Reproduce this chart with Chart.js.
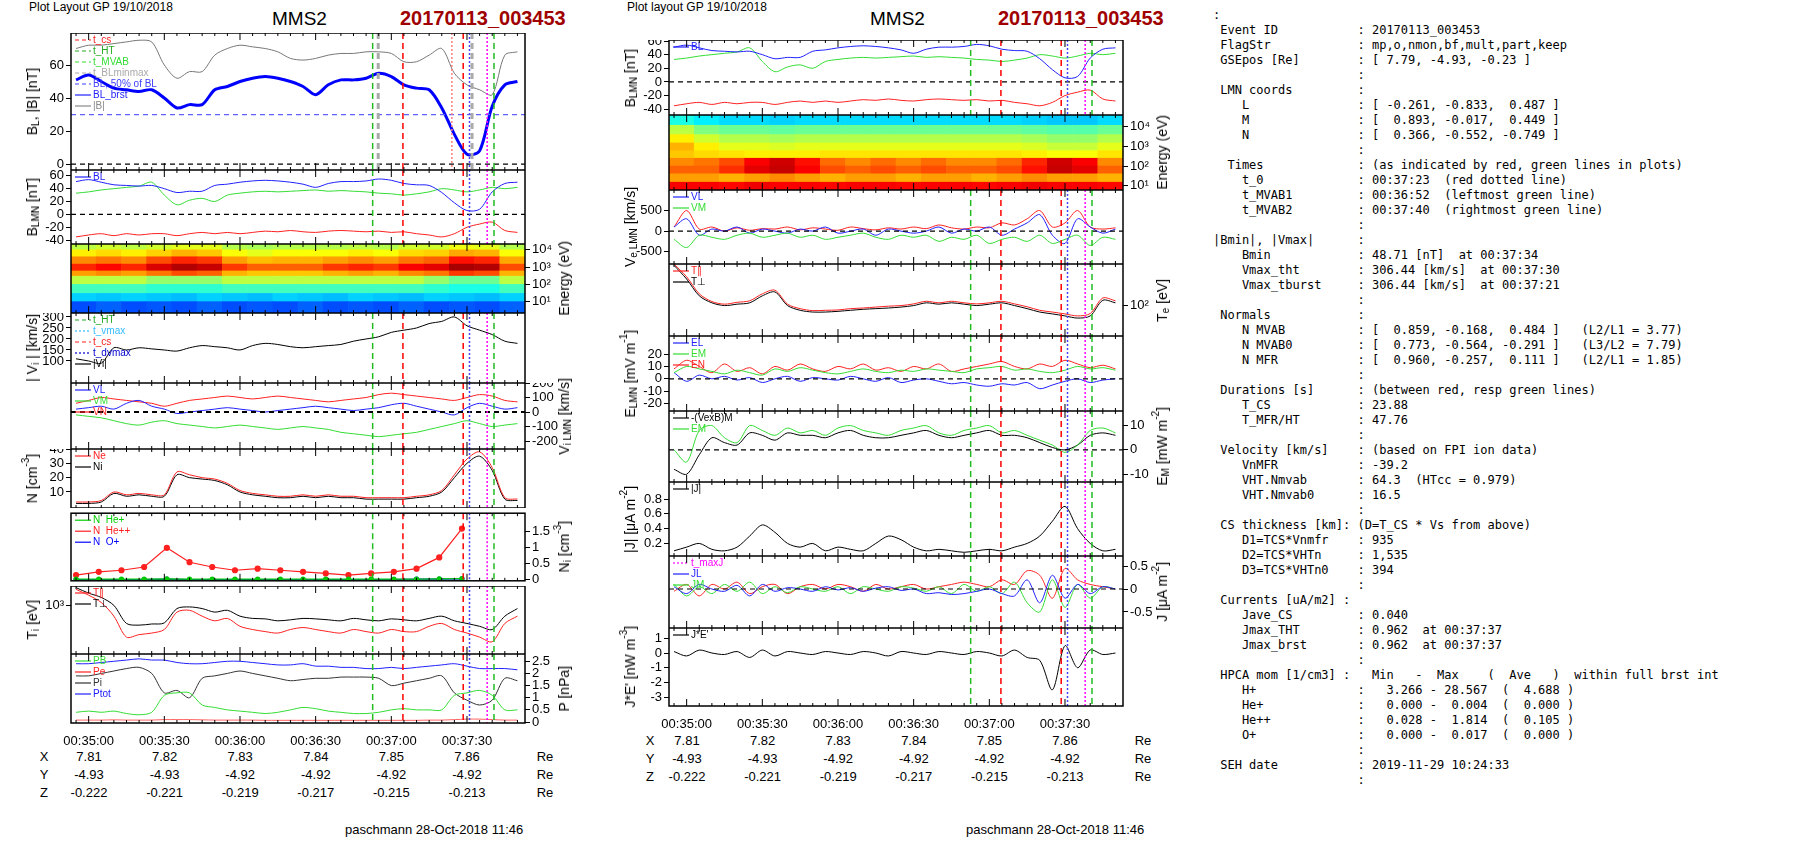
<!DOCTYPE html>
<html>
<head>
<meta charset="utf-8">
<script src="https://cdn.jsdelivr.net/npm/chart.js@4"></script>
<style>
  body { margin: 0; background: #fff; width: 1804px; height: 841px; position: relative; overflow: hidden; font-family: "Liberation Sans", Arial, sans-serif; }
  canvas { position: absolute; }
  .t { position: absolute; white-space: nowrap; color: #000; }
  .c { position: absolute; white-space: nowrap; transform: translateX(-50%); font-size: 13px; }
  .yt { position: absolute; white-space: nowrap; font-size: 14px; writing-mode: vertical-rl; transform: rotate(180deg); line-height: 16px; }
  .yt sub, .yt sup { font-size: 10px; line-height: 0; }
  pre { position: absolute; left: 1213px; top: 8px; margin: 0; font-family: "DejaVu Sans Mono", monospace; font-size: 12px; line-height: 15px; }
</style>
</head>
<body>
<div class="t" style="left:29px;top:0px;font-size:12px">Plot Layout GP 19/10/2018</div>
<div class="t" style="left:272px;top:8px;font-size:19px">MMS2</div>
<div class="t" style="left:400px;top:7px;font-size:20px;font-weight:bold;color:#a00000">20170113_003453</div>
<div class="t" style="left:627px;top:0px;font-size:12px">Plot layout GP 19/10/2018</div>
<div class="t" style="left:870px;top:8px;font-size:19px">MMS2</div>
<div class="t" style="left:998px;top:7px;font-size:20px;font-weight:bold;color:#a00000">20170113_003453</div>
<div class="t" style="left:345px;top:822px;font-size:13px">paschmann 28-Oct-2018 11:46</div>
<div class="t" style="left:966px;top:822px;font-size:13px">paschmann 28-Oct-2018 11:46</div>
<div id="tables"></div>
<pre>:
 Event ID           : 20170113_003453
 FlagStr            : mp,o,nmon,bf,mult,part,keep
 GSEpos [Re]        : [ 7.79, -4.93, -0.23 ]
                    :
 LMN coords         :
    L               : [ -0.261, -0.833,  0.487 ]
    M               : [  0.893, -0.017,  0.449 ]
    N               : [  0.366, -0.552, -0.749 ]
                    :
  Times             : (as indicated by red, green lines in plots)
    t_0             : 00:37:23  (red dotted line)
    t_MVAB1         : 00:36:52  (leftmost green line)
    t_MVAB2         : 00:37:40  (rightmost green line)
                    :
|Bmin|, |Vmax|      :
    Bmin            : 48.71 [nT]  at 00:37:34
    Vmax_tht        : 306.44 [km/s]  at 00:37:30
    Vmax_tburst     : 306.44 [km/s]  at 00:37:21
                    :
 Normals            :
    N MVAB          : [  0.859, -0.168,  0.484 ]   (L2/L1 = 3.77)
    N MVAB0         : [  0.773, -0.564, -0.291 ]   (L3/L2 = 7.79)
    N MFR           : [  0.960, -0.257,  0.111 ]   (L2/L1 = 1.85)
                    :
 Durations [s]      : (between red, resp green lines)
    T_CS            : 23.88
    T_MFR/HT        : 47.76
                    :
 Velocity [km/s]    : (based on FPI ion data)
    VnMFR           : -39.2
    VHT.Nmvab       : 64.3  (HTcc = 0.979)
    VHT.Nmvab0      : 16.5
                    :
 CS thickness [km]: (D=T_CS * Vs from above)
    D1=TCS*Vnmfr    : 935
    D2=TCS*VHTn     : 1,535
    D3=TCS*VHTn0    : 394
                    :
 Currents [uA/m2] :
    Jave_CS         : 0.040
    Jmax_THT        : 0.962  at 00:37:37
    Jmax_brst       : 0.962  at 00:37:37
                    :
 HPCA mom [1/cm3] :   Min   -  Max    (  Ave   )  within full brst int
    H+              :   3.266 - 28.567  (  4.688 )
    He+             :   0.000 -  0.004  (  0.000 )
    He++            :   0.028 -  1.814  (  0.105 )
    O+              :   0.000 -  0.017  (  0.000 )
                    :
 SEH date           : 2019-11-29 10:24:33
                    :</pre>
<script>
// seconds after 00:35:00
const tSec = [-5,0,5,10,15,20,25,30,35,40,45,50,55,60,65,70,75,80,85,90,95,100,105,110,115,120,125,130,135,140,145,150,155,160,165,170];

const BL   = [51,54,50,46,45,44,45,40,34,36,36,45,47,50,52,53,52,50,47,42,48,51,51,52,55,53,48,46,45,34,18,6,8,35,48,50];
const Bmag = [70,72,72,73,74,75,74,60,52,56,56,66,70,72,71,70,68,64,63,64,66,67,67,68,68,67,62,62,66,70,55,48,45,42,66,68];
const BM   = [33,35,38,40,42,44,50,30,15,22,25,20,30,33,35,36,35,36,37,38,36,37,36,35,33,32,30,32,35,40,38,35,38,42,40,42];
const BN   = [-35,-32,-30,-33,-30,-32,-30,-30,-33,-30,-28,-30,-28,-30,-28,-26,-27,-25,-27,-28,-26,-25,-26,-27,-26,-28,-27,-30,-32,-35,-30,-20,-15,-12,-25,-28];

const Vi   = [110,100,90,160,150,160,155,150,145,160,170,165,160,150,170,180,175,165,160,165,170,175,190,200,210,230,240,250,270,280,300,260,240,220,190,180];
const ViL  = [20,30,40,20,60,80,40,20,-10,0,10,20,30,20,10,0,10,20,30,40,30,20,10,20,30,50,60,40,20,0,-20,30,60,40,20,30];
const ViM  = [-20,-30,-40,-60,-80,-90,-70,-60,-80,-90,-100,-110,-100,-90,-100,-110,-120,-110,-100,-110,-120,-140,-150,-160,-170,-160,-150,-140,-120,-100,-80,-60,-80,-100,-90,-80];
const ViN  = [60,80,100,90,80,70,60,40,60,80,90,100,110,100,90,100,110,100,90,80,70,80,90,100,120,130,120,110,100,90,80,100,120,110,80,70];

const Ni   = [2,2,3,9,7,8,7,7,22,20,19,18,15,10,8,7,6,6,7,6,7,6,6,5,5,5,5,6,7,10,20,30,35,25,5,4];
const Ne   = [3,3,4,10,8,9,8,8,24,22,20,19,16,11,9,8,7,7,8,7,8,7,7,6,6,6,6,7,8,11,22,33,38,27,6,5];

const tHpca = [-5,4,13,22,31,40,49,58,67,76,85,94,103,112,121,130,139,148];
const NHepp = [0.15,0.25,0.3,0.4,1.0,0.55,0.4,0.3,0.35,0.3,0.25,0.2,0.15,0.2,0.25,0.35,0.7,1.6];
const NHep  = [0.02,0.02,0.02,0.02,0.03,0.02,0.02,0.02,0.02,0.02,0.02,0.02,0.02,0.02,0.02,0.02,0.03,0.04];
const NOp   = [0.01,0.01,0.01,0.01,0.02,0.01,0.01,0.01,0.01,0.01,0.01,0.01,0.01,0.01,0.01,0.02,0.02,0.03];

const Tperp = [1800,1500,1300,1000,550,520,540,560,900,950,900,800,850,700,650,640,600,620,650,640,620,600,650,620,600,640,620,600,650,700,600,550,500,450,700,900];
const Tpar  = [1700,1400,1100,700,350,380,400,450,800,850,700,600,650,500,450,420,400,450,480,450,420,400,450,420,400,450,420,420,500,550,450,400,350,300,550,700];

const Ptot = [2.4,2.4,2.45,2.5,2.55,2.6,2.55,2.55,2.45,2.4,2.4,2.45,2.5,2.5,2.45,2.4,2.35,2.35,2.4,2.3,2.3,2.25,2.25,2.2,2.2,2.25,2.2,2.25,2.3,2.35,2.4,2.3,2.2,2.2,2.2,2.15];
const Pi   = [1.9,1.9,2.0,2.1,2.2,2.25,2.0,1.2,1.3,1.0,1.8,1.9,2.0,2.1,2.0,1.9,1.8,1.7,1.75,1.8,1.8,1.85,1.85,1.85,1.8,1.5,1.6,1.7,1.8,1.9,1.2,0.9,0.7,0.9,1.8,1.7];
const Pb   = [0.4,0.45,0.4,0.45,0.35,0.3,0.4,1.1,1.2,1.2,0.7,0.6,0.5,0.45,0.4,0.35,0.4,0.5,0.6,0.55,0.45,0.4,0.35,0.35,0.4,0.5,0.55,0.5,0.5,0.5,1.1,1.2,1.3,1.1,0.5,0.5];
const Pe   = [0.08,0.08,0.08,0.09,0.08,0.08,0.08,0.1,0.1,0.1,0.09,0.08,0.08,0.08,0.08,0.07,0.07,0.07,0.07,0.07,0.07,0.07,0.07,0.07,0.07,0.07,0.07,0.07,0.08,0.08,0.1,0.12,0.12,0.1,0.08,0.08];

const VeL = [100,300,-100,50,0,100,-50,50,0,-50,50,0,100,-50,0,50,-100,50,0,-50,0,100,-50,50,0,100,-100,50,200,400,-100,-300,300,100,-50,50];
const VeM = [-200,-400,-100,-150,-200,-100,-50,-150,-100,-50,-150,-100,-200,-150,-100,-50,-150,-200,-100,-150,-100,-250,-150,-200,-100,-300,-200,-150,-250,-100,-300,-200,-100,-350,-150,-200];
const VeN = [100,500,50,100,0,80,20,60,50,100,30,80,50,20,100,60,30,80,50,100,60,150,80,50,100,80,200,150,300,500,100,200,500,100,50,80];

const Te    = [400,250,140,110,100,105,110,140,160,100,85,80,80,82,85,88,90,92,95,100,110,105,110,105,100,105,110,100,90,80,75,70,65,70,120,110];
const TePar = [420,270,150,115,105,112,118,150,170,105,90,84,85,86,90,92,95,98,100,106,116,110,116,110,106,110,116,106,96,85,80,75,70,76,130,118];

const EL = [5,-2,3,0,2,-1,1,-3,0,2,-2,1,0,-1,2,0,-2,1,-3,-1,0,-2,-4,-3,-5,-6,-4,-5,-3,-8,-5,-2,0,-3,-1,0];
const EMc = [5,10,8,6,4,7,5,3,8,6,9,7,5,4,6,8,6,5,7,6,8,7,6,5,8,9,10,7,8,6,5,7,10,8,9,7];
const EN = [8,15,10,5,12,6,9,4,10,7,12,8,6,10,8,12,7,9,6,10,8,12,6,8,10,12,14,10,8,12,10,15,12,9,11,8];

const EMg = [0,-5,8,10,5,3,10,8,6,9,7,8,6,9,10,8,7,6,8,9,10,7,6,8,9,10,7,8,6,4,2,-1,2,8,9,7];
const EMk = [-8,-10,-2,5,3,2,7,6,4,7,6,6,5,7,8,6,5,5,6,7,8,6,5,6,7,8,6,6,5,3,1,0,2,6,7,6];

const Jmag = [0.1,0.15,0.2,0.12,0.1,0.15,0.3,0.45,0.35,0.2,0.15,0.2,0.1,0.15,0.12,0.1,0.2,0.3,0.25,0.15,0.1,0.12,0.1,0.08,0.1,0.12,0.1,0.15,0.2,0.3,0.5,0.7,0.4,0.2,0.1,0.12];
const JL = [0.05,-0.1,0.1,0.0,-0.05,0.08,-0.15,0.1,-0.05,0.03,0.0,-0.05,0.05,-0.02,0.03,-0.05,0.02,0.05,-0.03,0.0,-0.1,-0.08,-0.12,-0.1,-0.05,0.0,-0.1,-0.15,0.2,-0.3,0.3,-0.2,0.1,-0.1,0.05,0.0];
const JM = [0.1,-0.15,0.05,-0.1,0.1,-0.05,0.15,-0.1,0.05,-0.08,0.05,0.0,-0.05,0.05,-0.1,0.05,0.0,-0.05,0.05,0.02,-0.05,0.05,-0.1,0.1,-0.05,0.05,-0.1,0.15,-0.3,-0.5,0.2,-0.4,0.1,-0.2,0.05,0.0];
const JN = [-0.05,0.1,-0.15,0.1,0.0,0.15,-0.1,0.05,0.1,-0.1,0.05,0.1,0.0,0.1,0.05,-0.05,0.1,0.0,0.05,0.1,0.0,0.05,0.1,0.15,0.1,0.05,0.2,0.1,0.4,0.3,-0.2,0.45,0.2,0.1,0.05,0.0];
const JE = [0.1,-0.2,0.2,0,-0.1,0.1,-0.3,0.2,-0.2,0.1,0,-0.1,0.1,0,-0.1,0.1,0,-0.2,0.1,0,-0.1,0.1,0,-0.1,0.1,0,-0.2,0.2,-0.3,-0.5,-2.5,0.5,-1,0.2,-0.1,0];

// spectrograms: 10 s bins, energy band edges, normalised colour level per band (low -> high energy)
const tSpec = [-2,8,18,28,38,48,58,68,78,88,98,108,118,128,138,148,158,168];
const ionEdges = [2.2,10,30,100,300,600,1500,4000,10000,22000];
const ionLevels = [
  [0.2,0.22,0.2,0.21,0.2,0.22,0.2,0.21,0.2,0.22,0.2,0.21,0.2,0.22,0.2,0.21,0.2,0.22],
  [0.33,0.32,0.33,0.32,0.31,0.33,0.32,0.31,0.33,0.32,0.31,0.33,0.32,0.31,0.33,0.32,0.31,0.33],
  [0.44,0.44,0.44,0.42,0.42,0.42,0.44,0.44,0.44,0.44,0.44,0.44,0.44,0.44,0.42,0.4,0.4,0.44],
  [0.56,0.56,0.56,0.52,0.52,0.52,0.56,0.56,0.56,0.56,0.56,0.56,0.56,0.56,0.52,0.48,0.48,0.56],
  [0.72,0.74,0.72,0.76,0.8,0.78,0.7,0.68,0.68,0.68,0.7,0.72,0.7,0.74,0.76,0.82,0.8,0.7],
  [0.84,0.87,0.84,0.91,0.95,0.93,0.82,0.78,0.78,0.78,0.82,0.84,0.82,0.88,0.9,0.96,0.95,0.8],
  [0.74,0.76,0.74,0.8,0.84,0.82,0.72,0.69,0.7,0.7,0.72,0.74,0.72,0.76,0.78,0.86,0.84,0.71],
  [0.64,0.66,0.64,0.67,0.7,0.68,0.62,0.6,0.62,0.62,0.62,0.64,0.62,0.66,0.67,0.71,0.7,0.62],
  [0.56,0.58,0.56,0.58,0.6,0.6,0.55,0.54,0.55,0.55,0.55,0.56,0.55,0.58,0.58,0.61,0.6,0.55]
];
const eleEdges = [6,15,40,100,250,600,1500,4000,12000,40000];
const eleLevels = [
  [0.88,0.88,0.87,0.89,0.88,0.88,0.87,0.88,0.88,0.87,0.88,0.88,0.87,0.88,0.89,0.88,0.88,0.87],
  [0.72,0.72,0.7,0.72,0.74,0.72,0.7,0.72,0.72,0.7,0.72,0.72,0.7,0.72,0.74,0.72,0.72,0.7],
  [0.78,0.78,0.83,0.9,0.93,0.88,0.8,0.78,0.8,0.78,0.8,0.78,0.78,0.8,0.86,0.93,0.9,0.78],
  [0.74,0.76,0.8,0.88,0.92,0.86,0.77,0.74,0.77,0.74,0.77,0.74,0.74,0.77,0.84,0.92,0.88,0.74],
  [0.68,0.66,0.65,0.64,0.64,0.64,0.65,0.65,0.65,0.65,0.65,0.65,0.65,0.65,0.64,0.62,0.62,0.65],
  [0.7,0.64,0.6,0.6,0.59,0.6,0.6,0.6,0.6,0.6,0.6,0.6,0.6,0.6,0.59,0.57,0.57,0.6],
  [0.64,0.58,0.55,0.55,0.54,0.55,0.55,0.55,0.55,0.55,0.55,0.55,0.55,0.55,0.54,0.52,0.52,0.55],
  [0.56,0.5,0.48,0.48,0.47,0.48,0.48,0.48,0.48,0.48,0.48,0.48,0.48,0.48,0.47,0.46,0.46,0.48],
  [0.4,0.36,0.34,0.34,0.33,0.34,0.34,0.34,0.34,0.34,0.34,0.34,0.34,0.34,0.33,0.32,0.32,0.34]
];

// event markers (s after 00:35:00)
const markers = [
  { t: 112.6, color: '#22bb22', dash: [6, 4], w: 1.5 },
  { t: 114.8, color: '#aaaaaa', dash: [6, 4], w: 3, only: 'B' },
  { t: 124.6, color: '#ff0000', dash: [6, 4], w: 1.5 },
  { t: 144, color: '#ff8080', dash: [2, 2], w: 1.5, only: 'B' },
  { t: 148.5, color: '#ff0000', dash: [6, 4], w: 1.5 },
  { t: 151, color: '#4444ff', dash: [2, 2], w: 1.5 },
  { t: 152, color: '#aaaaaa', dash: [6, 4], w: 3, only: 'B' },
  { t: 158, color: '#ff00ff', dash: [2, 2], w: 1.5 },
  { t: 160.7, color: '#22bb22', dash: [6, 4], w: 1.5 }
];

const timeTicks = [0, 30, 60, 90, 120, 150];
const timeLabels = ['00:35:00', '00:35:30', '00:36:00', '00:36:30', '00:37:00', '00:37:30'];
const posX = ['7.81', '7.82', '7.83', '7.84', '7.85', '7.86'];
const posY = ['-4.93', '-4.93', '-4.92', '-4.92', '-4.92', '-4.92'];
const posZ = ['-0.222', '-0.221', '-0.219', '-0.217', '-0.215', '-0.213'];

const GREEN = '#33dd33', RED = '#ff2020', BLUE = '#2020ff';
const sup = { '0': '⁰', '1': '¹', '2': '²', '3': '³', '4': '⁴' };

function jet(v) {
  const r = Math.max(0, Math.min(1, 1.5 - Math.abs(4 * v - 3)));
  const g = Math.max(0, Math.min(1, 1.5 - Math.abs(4 * v - 2)));
  const b = Math.max(0, Math.min(1, 1.5 - Math.abs(4 * v - 1)));
  return `rgb(${Math.round(r * 255)},${Math.round(g * 255)},${Math.round(b * 255)})`;
}

const line = (data, color, w = 1, t = tSec) => ({
  data: data.map((v, i) => ({ x: t[i], y: v })), borderColor: color, backgroundColor: color,
  borderWidth: w, pointRadius: 0, tension: 0.3
});

function specSets(edges, levels) {
  return levels.map((row, b) => ({
    type: 'bar', grouped: false, barPercentage: 1, categoryPercentage: 1,
    data: tSpec.map(t => ({ x: t, y: [edges[b], edges[b + 1]] })),
    backgroundColor: row.map(jet), borderWidth: 0
  }));
}

const framePlugin = {
  id: 'frame',
  afterDatasetsDraw(chart, args, o) {
    const { ctx, chartArea: a, scales } = chart;
    ctx.save();
    (o.hlines || []).forEach(h => {
      const y = scales.y.getPixelForValue(h.y);
      ctx.strokeStyle = h.color; ctx.lineWidth = h.w || 1.2; ctx.setLineDash(h.dash || [5, 4]);
      ctx.beginPath(); ctx.moveTo(a.left, y); ctx.lineTo(a.right, y); ctx.stroke();
    });
    if (!o.spec) markers.forEach(m => {
      if (m.only && m.only !== o.kind) return;
      const x = scales.x.getPixelForValue(m.t);
      ctx.strokeStyle = m.color; ctx.lineWidth = m.w; ctx.setLineDash(m.dash);
      ctx.beginPath(); ctx.moveTo(x, a.top); ctx.lineTo(x, a.bottom); ctx.stroke();
    });
    ctx.setLineDash([]);
    ctx.font = '10px "Liberation Sans", Arial';
    (o.legend || []).forEach((l, i) => {
      const y = a.top + 7 + i * 11;
      ctx.strokeStyle = l.color; ctx.lineWidth = 1.2; ctx.setLineDash(l.dash || []);
      ctx.beginPath(); ctx.moveTo(a.left + 4, y); ctx.lineTo(a.left + 20, y); ctx.stroke();
      ctx.setLineDash([]);
      ctx.fillStyle = l.color; ctx.textBaseline = 'middle'; ctx.textAlign = 'left';
      ctx.fillText(l.text, a.left + 22, y);
    });
    // ticks along the frame
    ctx.strokeStyle = '#000'; ctx.lineWidth = 1;
    for (let t = -5; t <= 170; t += 5) {
      const x = scales.x.getPixelForValue(t);
      const len = t % 30 === 0 ? 7 : 3;
      ctx.beginPath(); ctx.moveTo(x, a.bottom); ctx.lineTo(x, a.bottom - len);
      ctx.moveTo(x, a.top); ctx.lineTo(x, a.top + len); ctx.stroke();
    }
    ctx.lineWidth = 1.5;
    ctx.strokeRect(a.left, a.top, a.right - a.left, a.bottom - a.top);
    ctx.restore();
  }
};

function panel(o) {
  const bottom = !!o.bottom;
  const cv = document.createElement('canvas');
  const h = o.h + (bottom ? 24 : 0);
  cv.width = 598; cv.height = h;
  cv.style.left = o.left + 'px'; cv.style.top = o.top + 'px';
  cv.style.width = '598px'; cv.style.height = h + 'px';
  document.body.appendChild(cv);
  // axis title as vertical text beside the panel, centred on (cx, cy)
  const t = document.createElement('div');
  t.className = 'yt'; t.innerHTML = o.title;
  document.body.appendChild(t);
  const cx = o.left + (o.right ? 564 : 32), cy = o.top + o.h / 2;
  t.style.left = (cx - t.offsetWidth / 2) + 'px';
  t.style.top = (cy - t.offsetHeight / 2) + 'px';
  new Chart(cv, {
    type: 'line',
    data: { datasets: o.sets },
    plugins: [framePlugin],
    options: {
      responsive: false, animation: false, devicePixelRatio: 1,
      layout: { padding: { left: o.right ? 71 : 0, right: o.right ? 0 : 73, top: 0, bottom: 0 } },
      plugins: { legend: { display: false }, tooltip: { enabled: false },
        frame: { hlines: o.hlines, legend: o.legend, spec: o.spec, kind: o.kind } },
      scales: {
        x: {
          type: 'linear', min: -7, max: 173, offset: false,
          border: { display: false },
          grid: { display: false },
          ticks: { display: bottom, color: '#000', font: { size: 13 }, maxRotation: 0, autoSkip: false,
            callback: v => timeLabels[timeTicks.indexOf(v)] },
          afterBuildTicks: s => { s.ticks = timeTicks.map(v => ({ value: v })); },
          afterFit: s => { s.height = bottom ? 24 : 0; s.paddingLeft = 0; s.paddingRight = 0; }
        },
        y: {
          type: o.log ? 'logarithmic' : 'linear', position: o.right ? 'right' : 'left',
          min: o.min, max: o.max,
          border: { display: false },
          grid: { drawOnChartArea: false, drawTicks: true, tickLength: 5, color: '#000' },
          ticks: { color: '#000', font: { size: 13 }, padding: 2, autoSkip: false,
            callback: v => o.log ? '10' + String(Math.round(Math.log10(v))).split('').map(c => sup[c]).join('') : v },
          afterBuildTicks: s => { s.ticks = o.ticks.map(v => ({ value: v })); },
          title: { display: false },
          afterFit: s => { s.width = o.right ? 73 : 71; s.paddingTop = 0; s.paddingBottom = 0; }
        }
      }
    }
  });
}

const L = 0, R = 598;
// left column
panel({ left: L, top: 33, h: 137, min: -3.6, max: 79.4, ticks: [0, 20, 40, 60], title: 'B<sub>L</sub>, |B| [nT]', kind: 'B',
  sets: [line(Bmag, '#777777'), line(BL, '#0000ff', 3)],
  hlines: [{ y: 0, color: '#000' }, { y: 30, color: '#6060ff' }],
  legend: [{ text: 't_cs', color: RED, dash: [4, 3] }, { text: 't_HT', color: '#22aa22', dash: [4, 3] },
    { text: 't_MVAB', color: GREEN, dash: [4, 3] }, { text: 't_BLminmax', color: '#aaaaaa', dash: [4, 3] },
    { text: 'BL, 50% of BL', color: '#4040ff', dash: [4, 3] }, { text: 'BL_brst', color: BLUE }, { text: '|B|', color: '#888' }] });
panel({ left: L, top: 170, h: 74, min: -46, max: 69, ticks: [-40, -20, 0, 20, 40, 60], title: 'B<sub>LMN</sub> [nT]',
  sets: [line(BL, BLUE), line(BM, GREEN), line(BN, RED)], hlines: [{ y: 0, color: '#000' }],
  legend: [{ text: 'BL', color: BLUE }] });
panel({ left: L, top: 244, h: 69, log: true, min: 2.2, max: 22000, ticks: [10, 100, 1000, 10000], right: true,
  title: 'Energy (eV)', spec: true, sets: specSets(ionEdges, ionLevels) });
panel({ left: L, top: 313, h: 70, min: 0, max: 318, ticks: [100, 150, 200, 250, 300], title: '| V<sub>i</sub> | [km/s]',
  sets: [line(Vi, '#000')],
  legend: [{ text: 't_HT', color: '#22aa22', dash: [4, 3] }, { text: 't_vmax', color: '#33bbff', dash: [2, 2] },
    { text: 't_cs', color: RED, dash: [4, 3] }, { text: 't_dvmax', color: '#0000cc', dash: [2, 2] }, { text: '|Vi|', color: '#000' }] });
panel({ left: L, top: 383, h: 66, min: -255, max: 200, ticks: [-200, -100, 0, 100, 200], right: true, title: 'V<sub>i LMN</sub> [km/s]',
  sets: [line(ViL, BLUE), line(ViM, GREEN), line(ViN, RED)], hlines: [{ y: 0, color: '#000', w: 2 }],
  legend: [{ text: 'VL', color: BLUE }, { text: 'VM', color: GREEN }, { text: 'VN', color: RED }] });
panel({ left: L, top: 449, h: 59, min: -1.2, max: 40, ticks: [10, 20, 30, 40], title: 'N [cm<sup>-3</sup>]',
  sets: [line(Ne, RED), line(Ni, '#000')], legend: [{ text: 'Ne', color: RED }, { text: 'Ni', color: '#000' }] });
panel({ left: L, top: 508, h: 78, min: -0.03, max: 2.08, ticks: [0, 0.5, 1, 1.5], right: true, title: 'N<sub>i</sub> [cm<sup>-3</sup>]',
  sets: [
    Object.assign(line(NHep, '#00cc00', 1.2, tHpca), { pointRadius: 2, tension: 0 }),
    Object.assign(line(NHepp, RED, 1.2, tHpca), { pointRadius: 2.5, tension: 0 }),
    Object.assign(line(NOp, '#0000ff', 1.2, tHpca), { pointRadius: 2, tension: 0 })],
  legend: [{ text: 'N  He+', color: '#00cc00' }, { text: 'N  He++', color: RED }, { text: 'N  O+', color: '#0000ff' }] });
panel({ left: L, top: 586, h: 68, log: true, min: 200, max: 1900, ticks: [1000], title: 'T<sub>i</sub> [eV]',
  sets: [line(Tpar, RED), line(Tperp, '#000')], legend: [{ text: 'T∥', color: RED }, { text: 'T⊥', color: '#000' }] });
panel({ left: L, top: 654, h: 69, min: -0.04, max: 2.8, ticks: [0, 0.5, 1, 1.5, 2, 2.5], right: true, title: 'P [nPa]', bottom: true,
  sets: [line(Pe, '#ff6060'), line(Pb, GREEN), line(Pi, '#333'), line(Ptot, BLUE)],
  legend: [{ text: 'PB', color: GREEN }, { text: 'Pe', color: RED }, { text: 'Pi', color: '#333' }, { text: 'Ptot', color: BLUE }] });

// right column
panel({ left: R, top: 40, h: 75, min: -48.5, max: 61.5, ticks: [-40, -20, 0, 20, 40, 60], title: 'B<sub>LMN</sub> [nT]',
  sets: [line(BL, BLUE), line(BM, GREEN), line(BN, RED)], hlines: [{ y: 0, color: '#000' }],
  legend: [{ text: 'BL', color: BLUE }] });
panel({ left: R, top: 115, h: 75, log: true, min: 6, max: 40000, ticks: [10, 100, 1000, 10000], right: true,
  title: 'Energy (eV)', spec: true, sets: specSets(eleEdges, eleLevels) });
panel({ left: R, top: 190, h: 74, min: -800, max: 1000, ticks: [-500, 0, 500], title: 'V<sub>e LMN</sub> [km/s]',
  sets: [line(VeM, GREEN), line(VeL, BLUE), line(VeN, RED)], hlines: [{ y: 0, color: '#000' }],
  legend: [{ text: 'VL', color: BLUE }, { text: 'VM', color: GREEN }] });
panel({ left: R, top: 264, h: 72, log: true, min: 35, max: 420, ticks: [100], right: true, title: 'T<sub>e</sub> [eV]',
  sets: [line(TePar, RED), line(Te, '#000')], legend: [{ text: 'T∥', color: RED }, { text: 'T⊥', color: '#000' }] });
panel({ left: R, top: 336, h: 75, min: -26, max: 34.6, ticks: [-20, -10, 0, 10, 20], title: 'E<sub>LMN</sub> [mV m<sup>-1</sup>]',
  sets: [line(EMc, GREEN), line(EL, BLUE), line(EN, RED)], hlines: [{ y: 0, color: '#000' }],
  legend: [{ text: 'EL', color: BLUE }, { text: 'EM', color: GREEN }, { text: 'EN', color: RED }] });
panel({ left: R, top: 411, h: 71, min: -13.2, max: 16, ticks: [-10, 0, 10], right: true, title: 'E<sub>M</sub> [mW m<sup>-2</sup>]',
  sets: [line(EMg, GREEN), line(EMk, '#000')], hlines: [{ y: 0, color: '#000' }],
  legend: [{ text: '-(VexB)M', color: '#000' }, { text: 'EM', color: GREEN }] });
panel({ left: R, top: 482, h: 74, min: 0.03, max: 1.03, ticks: [0.2, 0.4, 0.6, 0.8], title: '|J| [μA m<sup>-2</sup>]',
  sets: [line(Jmag, '#000')], legend: [{ text: '|J|', color: '#000' }] });
panel({ left: R, top: 556, h: 72, min: -0.85, max: 0.72, ticks: [-0.5, 0, 0.5], right: true, title: 'J [μA m<sup>-2</sup>]',
  sets: [line(JL, BLUE), line(JM, GREEN), line(JN, RED)], hlines: [{ y: 0, color: '#000' }],
  legend: [{ text: 't_maxJ', color: '#ff00ff', dash: [2, 2] }, { text: 'JL', color: BLUE }, { text: 'JM', color: GREEN }] });
panel({ left: R, top: 628, h: 78, min: -3.6, max: 1.7, ticks: [-3, -2, -1, 0, 1], title: "J*E' [nW m<sup>-3</sup>]", bottom: true,
  sets: [line(JE, '#000')], legend: [{ text: "J*E'", color: '#000' }] });

// spacecraft position tables
function table(x0, rowsY, labelX, reX) {
  const box = document.getElementById('tables');
  [['X', posX], ['Y', posY], ['Z', posZ]].forEach(([n, vals], r) => {
    box.insertAdjacentHTML('beforeend', `<div class="c" style="left:${labelX}px;top:${rowsY[r]}px">${n}</div>`);
    vals.forEach((v, i) => box.insertAdjacentHTML('beforeend',
      `<div class="c" style="left:${x0 + timeTicks[i] * 2.52}px;top:${rowsY[r]}px">${v}</div>`));
    box.insertAdjacentHTML('beforeend', `<div class="c" style="left:${reX}px;top:${rowsY[r]}px">Re</div>`);
  });
}
table(89, [749, 767, 785], 44, 545);
table(687, [733, 751, 769], 650, 1143);
</script>
</body>
</html>
